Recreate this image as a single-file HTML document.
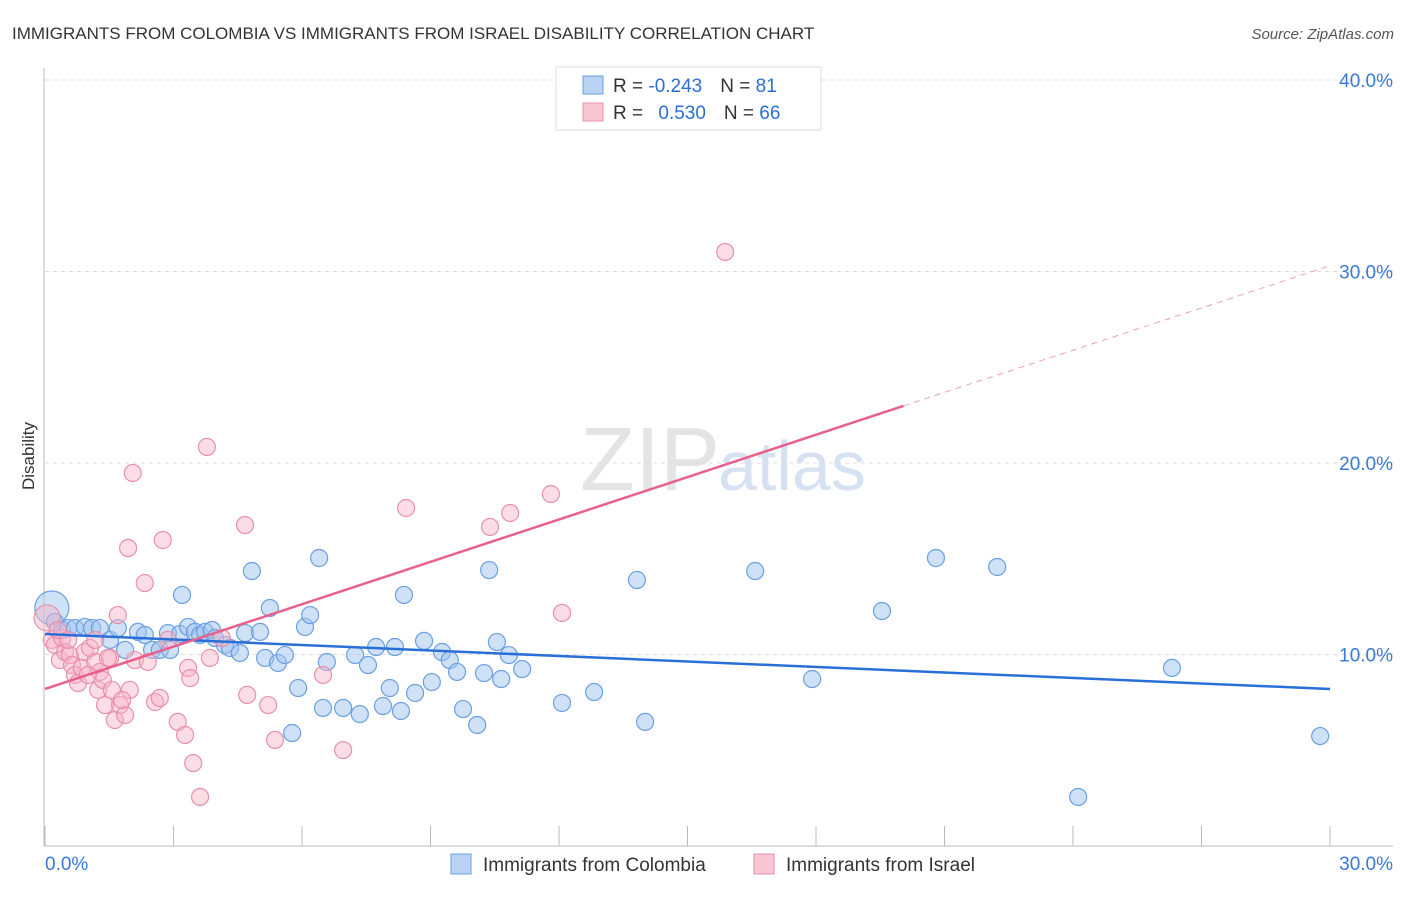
<!DOCTYPE html>
<html><head><meta charset="utf-8"><style>
body{margin:0;background:#fff;font-family:"Liberation Sans",sans-serif}
svg text{font-family:"Liberation Sans",sans-serif}
</style></head><body>
<svg width="1406" height="892">
<text x="12" y="39" font-size="17" fill="#333">IMMIGRANTS FROM COLOMBIA VS IMMIGRANTS FROM ISRAEL DISABILITY CORRELATION CHART</text>
<text x="1394" y="39" font-size="15" fill="#555" font-style="italic" text-anchor="end">Source: ZipAtlas.com</text>
<text x="720" y="490" font-size="90" fill="#e4e4e4" text-anchor="end" font-family="Liberation Serif">ZIP</text>
<text x="718" y="490" font-size="70" fill="#d6e2f2">atlas</text>
<g id="grid"></g>
<g id="axes"></g>
<g id="pts"></g>
<g id="lines"></g>
<text transform="translate(34,456) rotate(-90)" font-size="17" fill="#333" text-anchor="middle">Disability</text>
<g>
<rect x="556" y="67" width="265" height="63" fill="#fff" stroke="#ddd"/>
<rect x="583" y="76" width="20" height="18" fill="#b8d2f4" stroke="#6a9fe0"/>
<rect x="583" y="103" width="20" height="18" fill="#f9c6d4" stroke="#e890aa"/>
<text x="613" y="92" font-size="19" fill="#333">R = <tspan fill="#2a6fd6">-0.243</tspan><tspan dx="18">N = </tspan><tspan fill="#2a6fd6">81</tspan></text>
<text x="613" y="119" font-size="19" fill="#333">R = <tspan fill="#2a6fd6" dx="10">0.530</tspan><tspan dx="18">N = </tspan><tspan fill="#2a6fd6">66</tspan></text>
</g>
<g>
<rect x="451" y="854" width="20" height="20" fill="#b8d2f4" stroke="#6a9fe0"/>
<text x="483" y="871" font-size="19" fill="#333">Immigrants from Colombia</text>
<rect x="754" y="854" width="20" height="20" fill="#f9c6d4" stroke="#e890aa"/>
<text x="786" y="871" font-size="19" fill="#333">Immigrants from Israel</text>
</g>
</svg>
<script>
const yTicks=[10,20,30,40];
const xTickLabels=["0.0%","30.0%"];
const blueX=[0.16,0.23,0.40,0.54,0.70,0.93,1.10,1.28,1.52,1.70,1.87,2.17,2.33,2.50,2.68,2.87,2.92,3.15,3.20,3.34,3.50,3.62,3.74,3.90,3.97,4.20,4.32,4.55,4.67,4.83,5.02,5.14,5.25,5.44,5.60,5.77,5.91,6.07,6.19,6.40,6.49,6.58,6.96,7.24,7.35,7.54,7.73,7.89,8.05,8.17,8.31,8.38,8.64,8.85,9.03,9.27,9.45,9.62,9.76,10.09,10.25,10.37,10.55,10.65,10.83,11.14,12.07,12.82,13.82,14.01,16.58,17.91,19.54,20.80,22.23,24.12,26.31,29.77];
const blueY=[12.43,11.70,11.28,11.38,11.38,11.44,11.38,11.38,10.76,11.38,10.24,11.18,11.02,10.24,10.24,11.12,10.24,11.07,13.11,11.44,11.18,11.02,11.18,11.28,10.86,10.50,10.34,10.08,11.12,14.36,11.18,9.82,12.43,9.56,9.97,5.90,8.25,11.44,12.06,15.04,7.21,9.61,7.21,9.97,6.89,9.45,10.39,7.31,8.25,10.39,7.05,13.11,7.99,10.71,8.56,10.13,9.71,9.09,7.15,6.32,9.03,14.41,10.65,8.72,9.97,9.24,7.47,8.04,13.89,6.48,14.36,8.72,12.27,15.04,14.57,2.56,9.30,5.74];
const pinkX=[0.05,0.16,0.23,0.35,0.40,0.47,0.58,0.63,0.70,0.77,0.86,0.93,1.05,1.17,1.24,1.28,1.35,1.40,1.52,1.56,1.63,1.70,1.75,1.87,1.94,1.98,2.05,2.10,2.33,2.40,2.57,2.68,2.75,2.87,3.10,3.27,3.34,3.39,3.46,3.62,3.78,3.85,4.13,4.67,4.72,5.21,5.37,6.49,6.96,8.43,10.39,10.86,11.81,12.07,15.88,0.30,0.54,1.00,1.17,1.47,1.80];
const pinkY=[11.91,10.76,10.50,9.71,10.86,10.13,9.97,9.45,8.93,8.51,9.30,10.13,10.34,9.61,8.15,9.09,8.67,7.36,9.82,8.15,6.58,12.06,7.36,6.84,15.56,8.15,19.48,9.71,13.73,9.61,7.52,7.73,15.98,10.76,6.48,5.80,9.30,8.77,4.33,2.56,20.84,9.82,10.86,16.76,7.89,7.36,5.54,8.93,5.01,17.65,16.66,17.39,18.38,12.17,31.02,11.28,10.76,8.93,10.76,9.82,7.62];
const blueTrend=[11.07,8.20];
const pinkTrend=[8.20,22.98,30.30];
const pinkTrendX=[0,20.04,30];
const NS="http://www.w3.org/2000/svg";
const sx=v=>45+v/30*1285, sy=v=>846-v*19.15;
function mk(tag,attrs,parent){const e=document.createElementNS(NS,tag);for(const k in attrs)e.setAttribute(k,attrs[k]);document.getElementById(parent).appendChild(e);return e;}
yTicks.forEach(t=>{
 const g=mk('line',{x1:45,x2:1393,y1:sy(t),y2:sy(t),stroke:'#ddd','stroke-dasharray':'4,4'},'grid');
 
 
 const l=mk('text',{x:1393,y:sy(t)+7,'font-size':19,fill:'#3a78d8','text-anchor':'end'},'grid');
 l.textContent=t.toFixed(1)+'%';
 
 
});
let a=mk('line',{x1:44,x2:44,y1:68,y2:846,stroke:'#bbb'},'axes');


a=mk('line',{x1:44,x2:1393,y1:846,y2:846,stroke:'#bbb'},'axes');


for(let i=0;i<=10;i++){const t=mk('line',{x1:sx(i*3),x2:sx(i*3),y1:826,y2:846,stroke:'#bbb'},'axes');
 
 }
[[0,'start',45],[30,'end',1393]].forEach((p,i)=>{const t=mk('text',{x:p[2],y:870,'font-size':19,fill:'#3a78d8','text-anchor':p[1]},'axes');t.textContent=xTickLabels[i];
 
 });
blueX.forEach((x,i)=>{const c=mk('circle',{cx:sx(x),cy:sy(blueY[i]),r:i===0?17:8.5,fill:'rgba(160,195,240,0.5)',stroke:'#6a9fe0','stroke-width':1.2},'pts');
 
 });
pinkX.forEach((x,i)=>{const c=mk('circle',{cx:sx(x),cy:sy(pinkY[i]),r:i===0?13:8.5,fill:'rgba(248,180,200,0.45)',stroke:'#e890aa','stroke-width':1.2},'pts');
 
 });
let t=mk('line',{x1:sx(0),y1:sy(blueTrend[0]),x2:sx(30),y2:sy(blueTrend[1]),stroke:'#2a6fd6','stroke-width':2.5},'lines');


t=mk('line',{x1:sx(pinkTrendX[0]),y1:sy(pinkTrend[0]),x2:sx(pinkTrendX[1]),y2:sy(pinkTrend[1]),stroke:'#e8608c','stroke-width':2.5},'lines');


t=mk('line',{x1:sx(pinkTrendX[1]),y1:sy(pinkTrend[1]),x2:sx(pinkTrendX[2]),y2:sy(pinkTrend[2]),stroke:'#eaa0b8','stroke-width':1,'stroke-dasharray':'6,5'},'lines');


</script>
</body></html>
